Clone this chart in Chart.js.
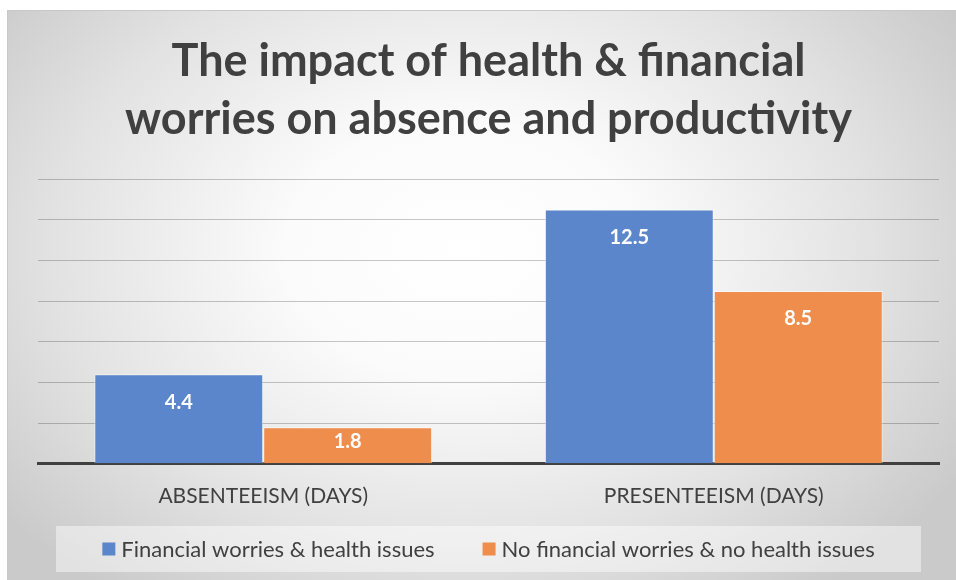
<!DOCTYPE html>
<html>
<head>
  <meta charset="UTF-8">
  <title>Health & financial worries</title>
  <script src="https://cdn.jsdelivr.net/npm/chart.js"></script>
  <style>
    html, body {
      margin: 0;
      padding: 0;
      background: #ffffff;
    }
    #chartBox {
      position: absolute;
      left: 7px;
      top: 10px;
      width: 949px;
      height: 570px;
      border-top: 1px solid #c8c8c8;
      border-left: 1px solid #c8c8c8;
      background: radial-gradient(ellipse 62% 75% at 48% 42%, #ffffff 0%, #fbfbfb 30%, #e2e2e2 70%, #cacaca 100%);
    }
  </style>
</head>
<body>

  <div id="chartBox">
    <canvas id="impactChart" width="949" height="570"></canvas>
  </div>

  <script>
    const categories = ['ABSENTEEISM (DAYS)', 'PRESENTEEISM (DAYS)'];
    const seriesNames = ['Financial worries & health issues', 'No financial worries & no health issues'];
    const worriedDays = [4.4, 12.5];
    const notWorriedDays = [1.8, 8.5];
    const titleLines = ['The impact of health & financial', 'worries on absence and productivity'];

    const FONT = "Lato, 'Open Sans', sans-serif";

    // white value labels just inside the top of each bar
    const barValueLabels = {
      id: 'barValueLabels',
      afterDatasetsDraw(chart) {
        const ctx = chart.ctx;
        ctx.save();
        ctx.fillStyle = '#ffffff';
        ctx.font = 'bold 20px ' + FONT;
        ctx.textAlign = 'center';
        ctx.textBaseline = 'middle';
        chart.data.datasets.forEach((ds, i) => {
          chart.getDatasetMeta(i).data.forEach((bar, j) => {
            const h = bar.base - bar.y;
            const y = bar.y + Math.min(28, h / 2 - 4);
            ctx.fillText(ds.data[j].toFixed(1), bar.x, y);
          });
        });
        ctx.restore();
      }
    };

    // legend strip at the bottom: pale panel, square swatches, wide gap between entries
    const bottomLegend = {
      id: 'bottomLegend',
      afterDraw(chart) {
        const ctx = chart.ctx;
        const area = chart.chartArea;
        const box = 13, gap = 6, spacing = 48;
        const midY = chart.height - 32;
        ctx.save();
        ctx.fillStyle = 'rgba(255,255,255,0.45)';
        ctx.fillRect(48, midY - 23, 865, 46);
        ctx.font = '22px ' + FONT;
        ctx.textBaseline = 'middle';
        const items = chart.data.datasets.map(ds => ({
          text: ds.label,
          color: ds.backgroundColor,
          w: box + gap + ctx.measureText(ds.label).width
        }));
        const total = items.reduce((s, it) => s + it.w, 0) + spacing * (items.length - 1);
        let x = (area.left + area.right) / 2 - total / 2;
        items.forEach(it => {
          ctx.fillStyle = it.color;
          ctx.fillRect(x, midY - box / 2, box, box);
          ctx.fillStyle = '#404040';
          ctx.fillText(it.text, x + box + gap, midY + 1);
          x += it.w + spacing;
        });
        ctx.restore();
      }
    };

    const ctx = document.getElementById('impactChart').getContext('2d');
    new Chart(ctx, {
      type: 'bar',
      data: {
        labels: categories,
        datasets: [
          {
            label: seriesNames[0],
            data: worriedDays,
            backgroundColor: '#5b86cc',
            borderColor: 'rgba(255,255,255,0.55)',
            borderWidth: 1
          },
          {
            label: seriesNames[1],
            data: notWorriedDays,
            backgroundColor: '#ee8d4c',
            borderColor: 'rgba(255,255,255,0.55)',
            borderWidth: 1
          }
        ]
      },
      options: {
        responsive: false,
        animation: false,
        devicePixelRatio: 1,
        categoryPercentage: 0.75,
        barPercentage: 1,
        layout: {
          padding: { left: 30, right: 18, top: 21, bottom: 60 }
        },
        scales: {
          x: {
            grid: { display: false },
            border: { color: '#404040', width: 3 },
            ticks: {
              color: '#404040',
              font: { family: FONT, size: 21 },
              padding: 12
            }
          },
          y: {
            min: 0,
            max: 14,
            ticks: { display: false, stepSize: 2 },
            border: { display: false },
            grid: {
              color: ctx => ctx.tick.value === 0 ? 'rgba(0,0,0,0)' : 'rgba(0,0,0,0.22)',
              lineWidth: 1,
              drawTicks: false
            }
          }
        },
        plugins: {
          title: {
            display: true,
            text: titleLines,
            color: '#404040',
            font: { family: FONT, size: 45, weight: 'bold', lineHeight: 1.3 },
            padding: { top: 0, bottom: 30 }
          },
          legend: { display: false },
          tooltip: { enabled: false }
        }
      },
      plugins: [barValueLabels, bottomLegend]
    });
  </script>

</body>
</html>
